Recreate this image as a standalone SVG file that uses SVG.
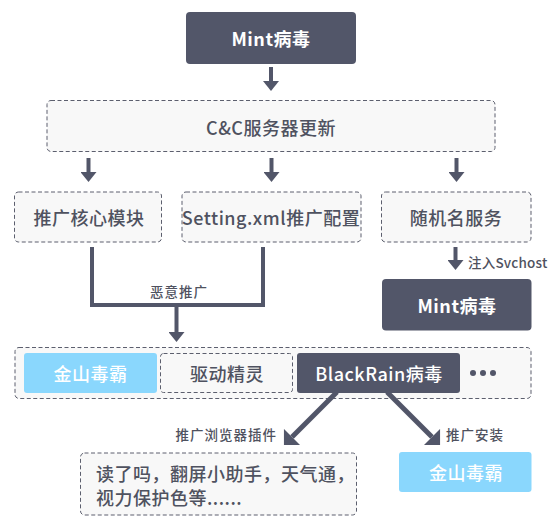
<svg xmlns="http://www.w3.org/2000/svg" width="560" height="527" viewBox="0 0 560 527">
<style>
  text { font-family: "Noto Sans CJK SC", "Noto Sans", sans-serif; dominant-baseline: central; }
  .dark { fill: #525669; }
  .blue { fill: #8ad7fd; }
  .dash { fill: #f8f8f8; stroke: #5c5f6e; stroke-width: 1; stroke-dasharray: 4 2.5; }
  .t { font-size: 18px; fill: #4f5260; letter-spacing: 0.5px; text-anchor: middle; font-weight: 500; }
  .w { font-size: 18px; fill: #ffffff; letter-spacing: 0.5px; text-anchor: middle; font-weight: 500; }
  .wb { font-weight: 700; }
  .lbl { font-size: 13.5px; fill: #4f5260; letter-spacing: 1px; font-weight: 500; }
  .ln { fill: none; stroke: #525669; stroke-width: 4; }
  .ld { fill: none; stroke: #525669; stroke-width: 5; }
</style>
<defs>
  <marker id="ah" viewBox="0 -8 10 16" refX="0" refY="0" markerWidth="10" markerHeight="16" markerUnits="userSpaceOnUse" orient="auto">
    <polygon points="0,-8 10,0 0,8" fill="#525669"/>
  </marker>
  <marker id="ahd" viewBox="0 -11.4 11.4 22.8" refX="0" refY="0" markerWidth="11.4" markerHeight="22.8" markerUnits="userSpaceOnUse" orient="auto">
    <polygon points="0,-11.4 11.4,0 0,11.4" fill="#525669"/>
  </marker>
</defs>

<g id="mint-top">
  <rect class="dark" x="186" y="12" width="170" height="52" rx="4"/>
  <text class="w wb" x="271" y="38">Mint病毒</text>
</g>
<g id="cc-update">
  <rect class="dash" x="47" y="100.5" width="448" height="51" rx="4"/>
  <text class="t" x="271" y="127">C&amp;C服务器更新</text>
</g>
<g id="core-module">
  <rect class="dash" x="14.5" y="192" width="147" height="50" rx="4"/>
  <text class="t" x="89" y="217">推广核心模块</text>
</g>
<g id="setting-xml">
  <rect class="dash" x="182" y="192" width="179" height="50" rx="4"/>
  <text class="t" x="271" y="217">Setting.xml推广配置</text>
</g>
<g id="random-service">
  <rect class="dash" x="381.5" y="192" width="149.5" height="50" rx="4"/>
  <text class="t" x="456" y="217">随机名服务</text>
</g>
<g id="mint-svchost">
  <rect class="dark" x="382" y="279" width="149.5" height="51.5" rx="4"/>
  <text class="w wb" x="457" y="305">Mint病毒</text>
</g>
<g id="targets">
  <rect class="dash" x="15" y="347.5" width="516" height="51" rx="4"/>
</g>
<g id="jinshan-1">
  <rect class="blue" x="24" y="353" width="133" height="40" rx="3"/>
  <text class="w" x="90.5" y="373">金山毒霸</text>
</g>
<g id="qudong">
  <rect class="dash" x="160.5" y="353.5" width="132" height="39" rx="3"/>
  <text class="t" x="227" y="373">驱动精灵</text>
</g>
<g id="blackrain">
  <rect class="dark" x="297" y="353" width="163" height="40" rx="3"/>
  <text class="w" x="379" y="373">BlackRain病毒</text>
</g>
<g id="more">
  <circle class="dark" cx="473" cy="373" r="3"/>
  <circle class="dark" cx="483" cy="373" r="3"/>
  <circle class="dark" cx="493" cy="373" r="3"/>
</g>
<g id="plugins">
  <rect class="dash" x="80.5" y="453" width="276" height="62" rx="4"/>
  <text class="t" x="96" y="473" style="text-anchor:start">读了吗，翻屏小助手，天气通，</text>
  <text class="t" x="96" y="497" style="text-anchor:start">视力保护色等......</text>
</g>
<g id="jinshan-2">
  <rect class="blue" x="399" y="452" width="132.5" height="40" rx="3"/>
  <text class="w" x="466" y="472">金山毒霸</text>
</g>

<g id="connectors">
  <path class="ln" d="M271 67 V81" marker-end="url(#ah)"/>
  <path class="ln" d="M88.5 158 V172" marker-end="url(#ah)"/>
  <path class="ln" d="M271.5 158 V172" marker-end="url(#ah)"/>
  <path class="ln" d="M456.5 158 V172" marker-end="url(#ah)"/>
  <path class="ln" d="M455.5 247 V260" marker-end="url(#ah)"/>
  <path class="ln" d="M92 247 V305 H263 V247"/>
  <path class="ln" d="M176.5 305 V332" marker-end="url(#ah)"/>
  <path class="ld" d="M337 392 L292 437" marker-end="url(#ahd)"/>
  <path class="ld" d="M387 392 L432 437" marker-end="url(#ahd)"/>
  <text class="lbl" x="468" y="261.5" style="letter-spacing:0.2px">注入Svchost</text>
  <text class="lbl" x="179" y="291" style="text-anchor:middle">恶意推广</text>
  <text class="lbl" x="277" y="434" style="text-anchor:end">推广浏览器插件</text>
  <text class="lbl" x="446" y="434">推广安装</text>
</g>
</svg>
